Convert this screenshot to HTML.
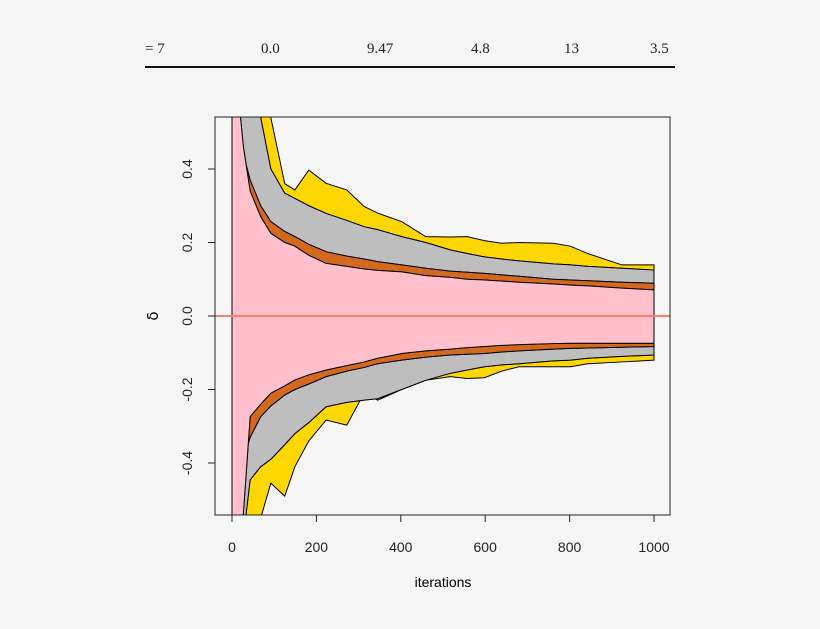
<!DOCTYPE html>
<html><head><meta charset="utf-8"><style>
body{margin:0;background:#f6f6f6;width:820px;height:629px;overflow:hidden}
svg{display:block}
</style></head><body>
<svg width="820" height="629">
<g font-family="Liberation Serif, serif" font-size="15" fill="#222">
<text x="145" y="53">= 7</text>
<text x="261" y="53">0.0</text>
<text x="367" y="53">9.47</text>
<text x="471" y="53">4.8</text>
<text x="564" y="53">13</text>
<text x="650" y="53">3.5</text>
</g>
<line x1="145" y1="67" x2="675" y2="67" stroke="#111" stroke-width="2"/>
<defs><clipPath id="c"><rect x="215" y="117" width="455" height="398"/></clipPath></defs>
<g id="plot" clip-path="url(#c)"></g>
<rect x="215" y="117" width="455" height="398" fill="none" stroke="#222"/>
<g id="axes" font-family="Liberation Sans, sans-serif" font-size="14" fill="#222"></g>
<text x="443" y="587" font-family="Liberation Sans, sans-serif" font-size="14" text-anchor="middle">iterations</text>
<text x="0" y="0" transform="translate(158,316) rotate(-90)" font-family="DejaVu Sans, sans-serif" font-size="15" text-anchor="middle">δ</text>
</svg>
<script>
const iters=[0,15,27,43,68,92,125,149,182,223,272,313,345,402,459,517,557,598,639,680,761,802,843,924,1000];
const pinkUp=[0.8,0.6,0.46,0.34,0.27,0.225,0.2,0.19,0.165,0.143,0.135,0.128,0.124,0.12,0.11,0.105,0.1,0.098,0.095,0.092,0.087,0.084,0.082,0.076,0.071];
const brownUp=[0.8,0.54,0.44,0.37,0.3,0.257,0.23,0.216,0.195,0.175,0.163,0.155,0.148,0.139,0.13,0.122,0.119,0.116,0.112,0.108,0.1,0.098,0.096,0.092,0.089];
const greyUp=[0.8,0.8,0.8,0.7,0.54,0.4,0.334,0.32,0.3,0.279,0.26,0.243,0.235,0.216,0.2,0.18,0.17,0.161,0.155,0.15,0.142,0.139,0.135,0.13,0.125];
const yellowUp=[0.8,0.8,0.8,0.8,0.8,0.54,0.36,0.343,0.397,0.361,0.343,0.298,0.28,0.257,0.216,0.215,0.216,0.205,0.198,0.2,0.198,0.19,0.17,0.139,0.139];
const pinkLo=[-0.8,-0.7,-0.537,-0.274,-0.24,-0.21,-0.19,-0.174,-0.16,-0.147,-0.135,-0.125,-0.115,-0.102,-0.095,-0.09,-0.086,-0.083,-0.08,-0.078,-0.075,-0.074,-0.074,-0.074,-0.074];
const brownLo=[-0.8,-0.6,-0.39,-0.33,-0.274,-0.245,-0.215,-0.2,-0.185,-0.165,-0.15,-0.14,-0.13,-0.12,-0.112,-0.106,-0.104,-0.102,-0.098,-0.095,-0.09,-0.088,-0.087,-0.085,-0.083];
const greyLo=[-0.8,-0.8,-0.6,-0.446,-0.41,-0.39,-0.35,-0.32,-0.29,-0.247,-0.235,-0.229,-0.225,-0.2,-0.175,-0.156,-0.147,-0.138,-0.133,-0.13,-0.122,-0.12,-0.115,-0.11,-0.106];
const yellowLo=[-0.8,-0.8,-0.8,-0.8,-0.55,-0.455,-0.49,-0.41,-0.34,-0.283,-0.297,-0.21,-0.229,-0.2,-0.175,-0.165,-0.17,-0.168,-0.15,-0.138,-0.138,-0.138,-0.13,-0.125,-0.12];
const xTicks=[0,200,400,600,800,1000];
const yTicks=[-0.4,-0.2,0.0,0.2,0.4];
const X=v=>232+v*0.422, Y=v=>316-v*367.5;
const NS='http://www.w3.org/2000/svg';
const plot=document.getElementById('plot'), axes=document.getElementById('axes');
function band(up,lo,color,name){
  let d='M'+iters.map((t,i)=>X(t)+','+Y(up[i])).join('L');
  for(let i=iters.length-1;i>=0;i--) d+='L'+X(iters[i])+','+Y(lo[i]);
  d+='Z';
  const p=document.createElementNS(NS,'path');
  p.setAttribute('d',d);p.setAttribute('fill',color);p.setAttribute('stroke','#000');p.setAttribute('stroke-width','1');
  
  
  plot.appendChild(p);
}
band(yellowUp,greyUp,'#ffd700','yellow-band-upper');
band(greyUp,brownUp,'#bebebe','grey-band-upper');
band(brownUp,pinkUp,'#d2691e','brown-band-upper');
band(greyLo,yellowLo,'#ffd700','yellow-band-lower');
band(brownLo,greyLo,'#bebebe','grey-band-lower');
band(pinkLo,brownLo,'#d2691e','brown-band-lower');
band(pinkUp,pinkLo,'#ffc0cb','pink-band');
const z=document.createElementNS(NS,'line');
z.setAttribute('x1',215);z.setAttribute('x2',670);z.setAttribute('y1',Y(0));z.setAttribute('y2',Y(0));
z.setAttribute('stroke','#fa8072');z.setAttribute('stroke-width','2');


plot.appendChild(z);
xTicks.forEach(t=>{
  const l=document.createElementNS(NS,'line');
  l.setAttribute('x1',X(t));l.setAttribute('x2',X(t));l.setAttribute('y1',515);l.setAttribute('y2',522);l.setAttribute('stroke','#222');
  
  
  axes.appendChild(l);
  const tx=document.createElementNS(NS,'text');
  tx.setAttribute('x',X(t));tx.setAttribute('y',552);tx.setAttribute('text-anchor','middle');tx.textContent=t;
  
  
  axes.appendChild(tx);
});
yTicks.forEach(t=>{
  const l=document.createElementNS(NS,'line');
  l.setAttribute('x1',208);l.setAttribute('x2',215);l.setAttribute('y1',Y(t));l.setAttribute('y2',Y(t));l.setAttribute('stroke','#222');
  
  
  axes.appendChild(l);
  const tx=document.createElementNS(NS,'text');
  tx.setAttribute('transform','translate(192,'+Y(t)+') rotate(-90)');tx.setAttribute('text-anchor','middle');tx.textContent=t.toFixed(1);
  
  
  axes.appendChild(tx);
});
</script>
</body></html>
